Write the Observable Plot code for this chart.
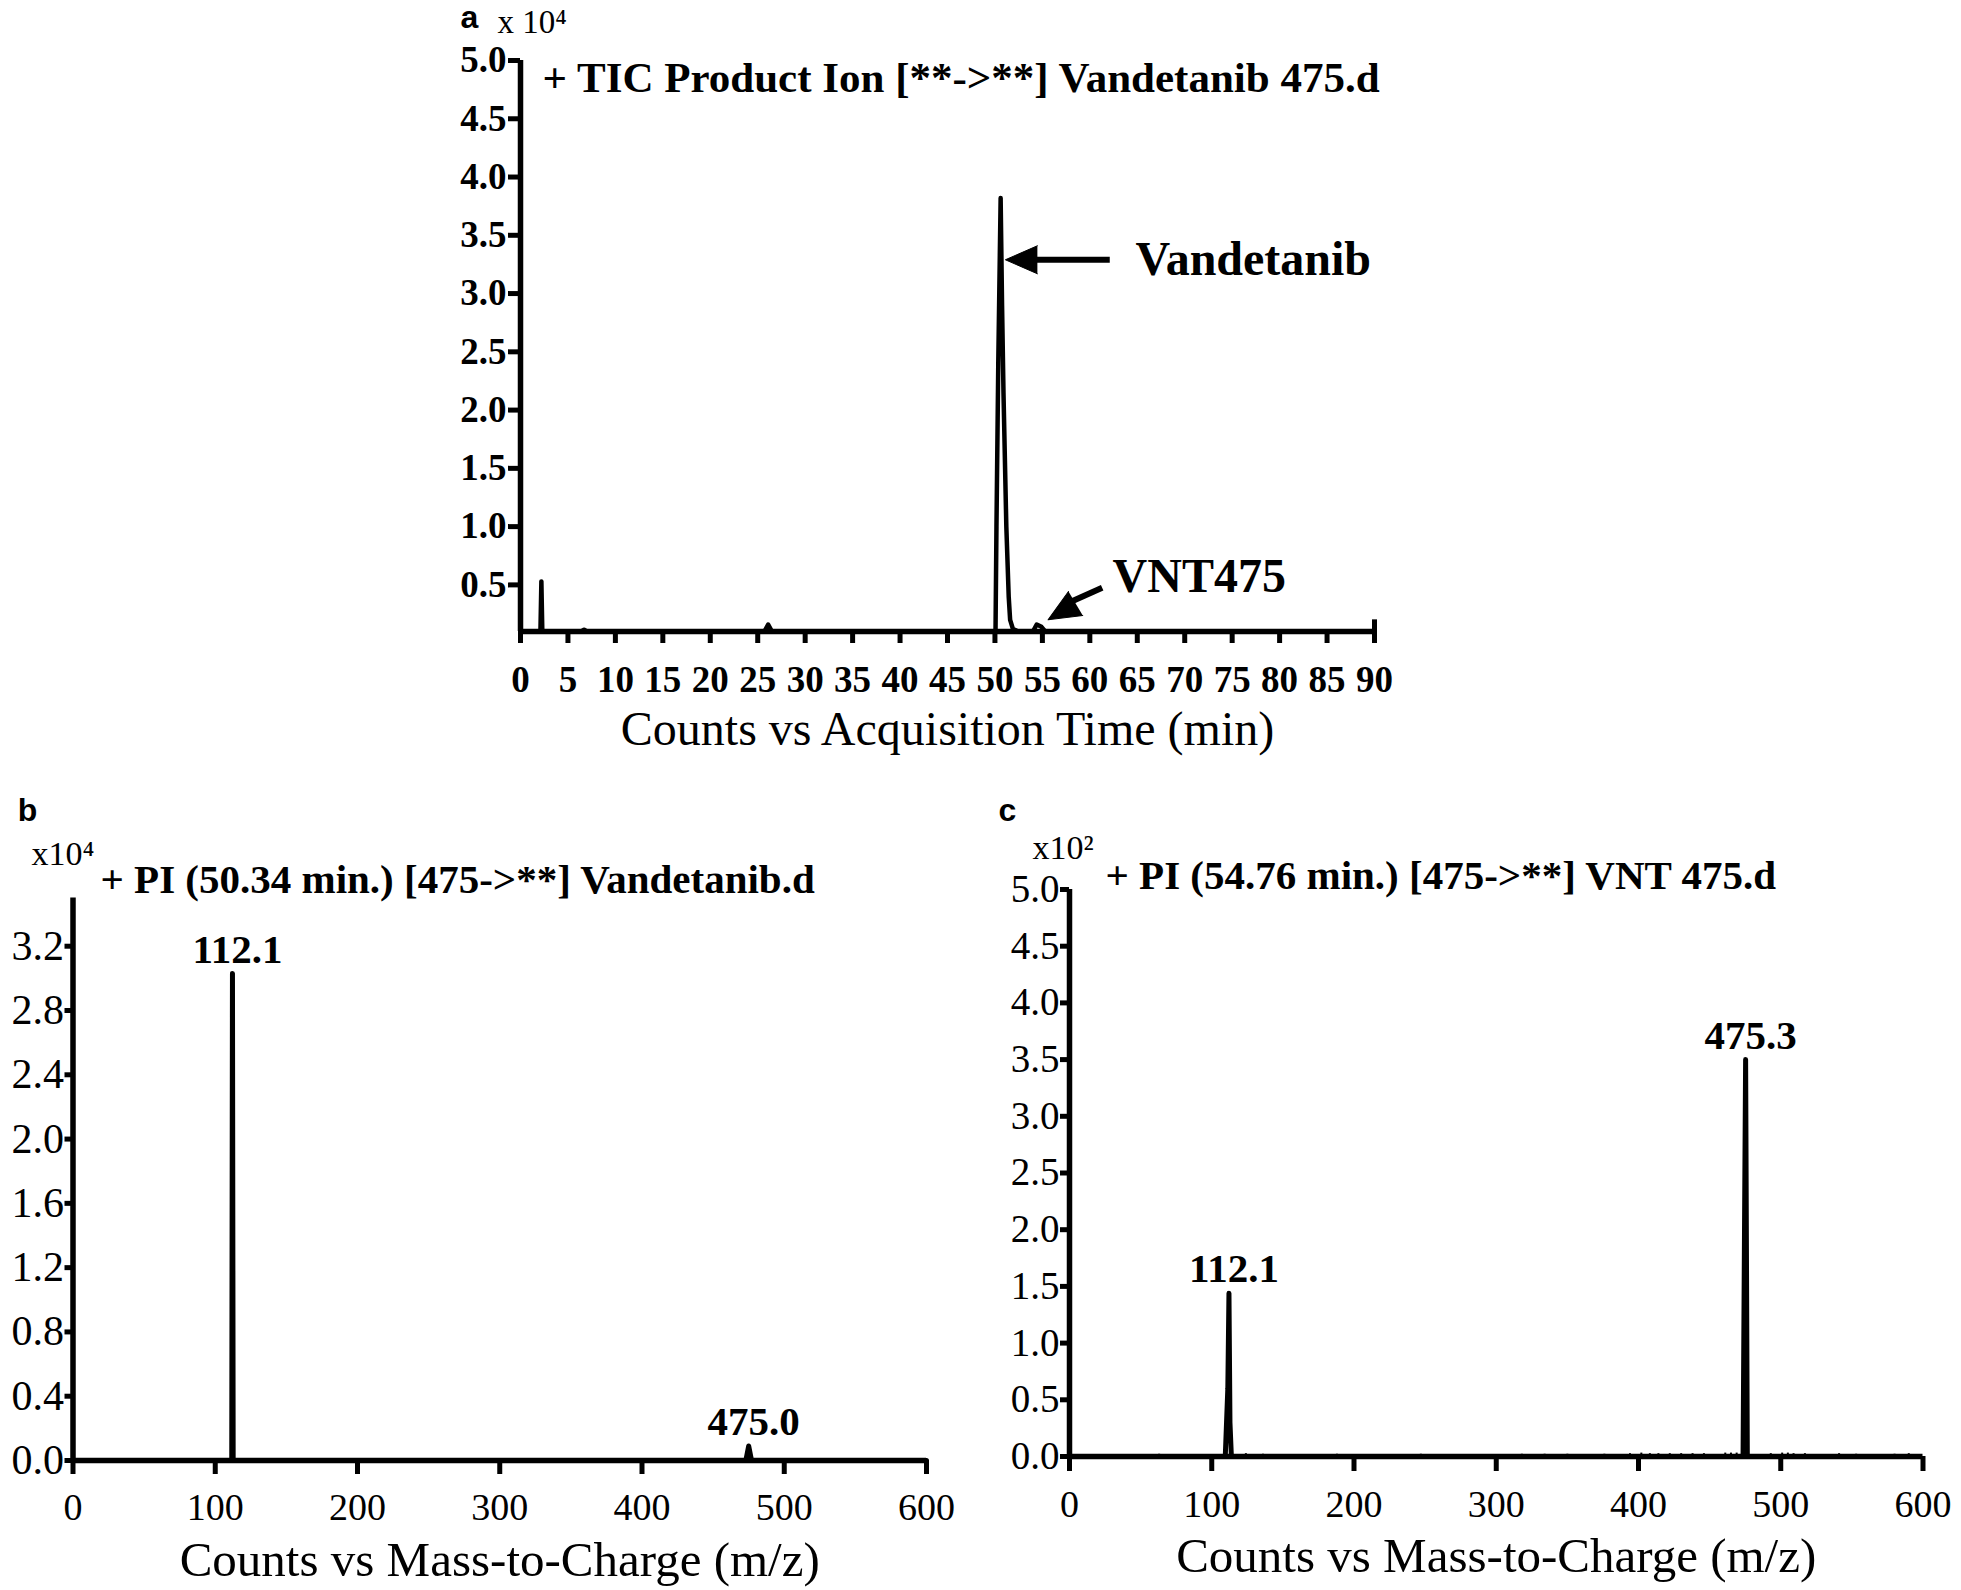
<!DOCTYPE html>
<html><head><meta charset="utf-8">
<script src="https://cdn.jsdelivr.net/npm/d3@7"></script>
<script src="https://cdn.jsdelivr.net/npm/@observablehq/plot@0.6"></script>
<style>
body{margin:0;background:#fff}
#wrap{position:relative;width:1961px;height:1590px;background:#fff;overflow:hidden}
#wrap svg{position:absolute}
</style></head><body><div id="wrap"></div>
<script>
// ---------- Panel a: TIC chromatogram (counts x10^4 vs time, min) ----------
const ticTime   = [0.3, 2.1, 2.2, 2.3, 6.4, 6.7, 7.0, 25.7, 26.1, 26.5, 49.8, 50.06, 50.16, 50.35, 50.6, 50.75, 50.9, 51.2, 51.45, 51.6, 51.9, 52.5, 54.0, 54.4, 54.9, 55.3, 60.0, 89.7];
const ticCounts = [0.1, 0.1, 0.53, 0.1, 0.1, 0.115, 0.1, 0.1, 0.16, 0.1, 0.1, 0.1, 1.0, 2.4, 3.82, 2.9, 2.15, 1.0, 0.4, 0.2, 0.12, 0.1, 0.1, 0.16, 0.14, 0.1, 0.1, 0.1];
const ticXTicks = [0, 5, 10, 15, 20, 25, 30, 35, 40, 45, 50, 55, 60, 65, 70, 75, 80, 85, 90];
const ticYTicks = [0.5, 1.0, 1.5, 2.0, 2.5, 3.0, 3.5, 4.0, 4.5, 5.0];
const titleA = "+ TIC Product Ion [**->**] Vandetanib 475.d";
const scaleA = "x 10\u2074";
const xLabelA = "Counts vs Acquisition Time (min)";
// annotations (label, text position, arrow tail, arrow base, arrow tip, head rotation)
const annLabels = ["Vandetanib", "VNT475"];
const annTextX  = [64.8, 62.4];
const annTextY  = [3.29, 0.57];
const annTailX  = [62.1, 61.3];
const annTailY  = [3.29, 0.476];
const annBaseX  = [53.2, 57.3];
const annBaseY  = [3.29, 0.33];
const annTipX   = [51.1, 55.6];
const annTipY   = [3.29, 0.20];
const annRotate = [-90, 239.4];

// ---------- Panel b: product ion spectrum at 50.34 min (x10^4) ----------
const mzB  = [0, 111.6, 112.1, 112.6, 473, 475.0, 477, 600];
const intB = [0, 0, 3.03, 0, 0, 0.09, 0, 0];
const peakB_mz  = [112.1, 475.0];
const peakB_int = [3.03, 0.09];
const peakB_lab = ["112.1", "475.0"];
const specXTicks = [0, 100, 200, 300, 400, 500, 600];
const bYTicks = [0.0, 0.4, 0.8, 1.2, 1.6, 2.0, 2.4, 2.8, 3.2];
const titleB = "+ PI (50.34 min.) [475->**] Vandetanib.d";
const scaleB = "x10\u2074";

// ---------- Panel c: product ion spectrum at 54.76 min (x10^2) ----------
const mzC  = [52, 109.5, 111.3, 112.1, 112.8, 113.8, 473.5, 475.3, 476.5, 591];
const intC = [0, 0, 0.6, 1.44, 0.3, 0, 0, 3.50, 0, 0];
const noiseC_mz  = [63, 124, 136, 188, 247, 318, 334, 350, 376, 394, 402, 408, 414, 422, 430, 438, 446, 461, 465, 469, 493, 501, 505, 509, 517, 541, 553, 580, 590];
const noiseC_int = [0.02, 0.025, 0.02, 0.02, 0.02, 0.02, 0.02, 0.02, 0.02, 0.025, 0.03, 0.025, 0.025, 0.025, 0.025, 0.025, 0.025, 0.03, 0.03, 0.03, 0.025, 0.03, 0.03, 0.025, 0.025, 0.025, 0.02, 0.02, 0.025];
const peakC_mz  = [112.1, 475.3];
const peakC_int = [1.44, 3.50];
const peakC_lab = ["112.1", "475.3"];
const cYTicks = [0.0, 0.5, 1.0, 1.5, 2.0, 2.5, 3.0, 3.5, 4.0, 4.5, 5.0];
const titleC = "+ PI (54.76 min.) [475->**] VNT 475.d";
const scaleC = "x10\u00B2";
const xLabelSpec = "Counts vs Mass-to-Charge (m/z)";

// ---------- build ----------
const serif = "'Liberation Serif','Times New Roman',Times,serif";
const sans = "'Liberation Sans',Arial,Helvetica,sans-serif";
const f1 = d3.format(".1f");
const wrap = document.getElementById("wrap");
function place(svg, left, top) { svg.style.left = left + "px"; svg.style.top = top + "px"; wrap.appendChild(svg); }
const baseStyle = {fontFamily: serif, overflow: "visible", background: "transparent", color: "#000"};
const txt = (s, o) => Plot.text([s], {text: d => d, frameAnchor: "top-left", textAnchor: "start", lineAnchor: "middle", fill: "#000", ...o});
const AXW = 5.5, TKW = 5;

// Panel a
const tic = ticTime.map((t, i) => ({t, c: ticCounts[i]}));
const ann = annLabels.map((l, i) => ({l, tx: annTextX[i], ty: annTextY[i], x1: annTailX[i], y1: annTailY[i], x2: annBaseX[i], y2: annBaseY[i], hx: annTipX[i], hy: annTipY[i], rot: annRotate[i]}));
const plotA = Plot.plot({
  width: 1961, height: 790, marginLeft: 520, marginRight: 587, marginTop: 60, marginBottom: 159,
  x: {domain: [0, 90]}, y: {domain: [0.1, 5.0]},
  style: baseStyle,
  marks: [
    Plot.axisX({ticks: ticXTicks, tickSize: 12, tickPadding: 22, fontSize: 37, fontWeight: "bold", strokeWidth: TKW, label: null}),
    Plot.axisY({ticks: ticYTicks, tickFormat: f1, tickSize: 12, tickPadding: 2, fontSize: 37, fontWeight: "bold", strokeWidth: TKW, label: null}),
    Plot.ruleX([0], {y1: 0.1, y2: 5.0, strokeWidth: AXW}),
    Plot.ruleY([0.1], {x1: 0, x2: 90, strokeWidth: AXW}),
    Plot.ruleX([90], {y1: 0.1, y2: 0.2, strokeWidth: TKW}),
    Plot.line(tic, {x: "t", y: "c", strokeWidth: 4.5}),
    Plot.link(ann, {x1: "x1", y1: "y1", x2: "x2", y2: "y2", strokeWidth: 6, stroke: "#000"}),
    Plot.vector(ann, {x: "hx", y: "hy", rotate: "rot", length: 32, r: 14, shape: "spike", anchor: "end", fill: "#000", fillOpacity: 1, stroke: "#000", strokeWidth: 1}),
    Plot.text(ann, {x: "tx", y: "ty", text: "l", textAnchor: "start", lineAnchor: "middle", fontSize: 48, fontWeight: "bold", fill: "#000"}),
    txt(titleA, {dx: 22, dy: 17.5, fontSize: 43, fontWeight: "bold"}),
    txt(scaleA, {dx: -23, dy: -38, fontSize: 33}),
    txt("a", {dx: -51, dy: -43, textAnchor: "middle", fontSize: 32, fontWeight: "bold", fontFamily: sans}),
    Plot.text([xLabelA], {text: d => d, frameAnchor: "bottom", dy: 98, lineAnchor: "middle", fontSize: 48, fill: "#000"})
  ]
});
place(plotA, 0, 0);

// Panel b
const specB = mzB.map((m, i) => ({m, c: intB[i]}));
const pkB = peakB_mz.map((m, i) => ({m, c: peakB_int[i], l: peakB_lab[i]}));
const plotB = Plot.plot({
  width: 980, height: 790, marginLeft: 72.5, marginRight: 54, marginTop: 97.5, marginBottom: 130,
  x: {domain: [0, 600]}, y: {domain: [0, 3.5]},
  style: baseStyle,
  marks: [
    Plot.axisX({ticks: specXTicks, tickSize: 14, tickPadding: 19, fontSize: 38, strokeWidth: TKW, label: null}),
    Plot.axisY({ticks: bYTicks, tickFormat: f1, tickSize: 8, tickPadding: 1, fontSize: 42, strokeWidth: TKW, label: null}),
    Plot.ruleX([0], {y1: 0, y2: 3.5, strokeWidth: AXW}),
    Plot.ruleY([0], {x1: 0, x2: 600, strokeWidth: AXW}),
    Plot.line(specB, {x: "m", y: "c", strokeWidth: 5}),
    Plot.text(pkB, {x: "m", y: "c", text: "l", dy: -24, dx: 5, lineAnchor: "middle", fontSize: 41, fontWeight: "bold", fill: "#000"}),
    txt(titleB, {dx: 27.5, dy: -18.5, fontSize: 41, fontWeight: "bold"}),
    txt(scaleB, {dx: -41.5, dy: -43.5, fontSize: 34}),
    txt("b", {dx: -45.5, dy: -87.5, textAnchor: "middle", fontSize: 32, fontWeight: "bold", fontFamily: sans}),
    Plot.text([xLabelSpec], {text: d => d, frameAnchor: "bottom", dy: 100, lineAnchor: "middle", fontSize: 49, fill: "#000"})
  ]
});
place(plotB, 0, 800);

// Panel c
const specC = mzC.map((m, i) => ({m, c: intC[i]}));
const noiseC = noiseC_mz.map((m, i) => ({m, c: noiseC_int[i]}));
const pkC = peakC_mz.map((m, i) => ({m, c: peakC_int[i], l: peakC_lab[i]}));
const plotC = Plot.plot({
  width: 981, height: 790, marginLeft: 89, marginRight: 38.5, marginTop: 89, marginBottom: 134,
  x: {domain: [0, 600]}, y: {domain: [0, 5.0]},
  style: baseStyle,
  marks: [
    Plot.axisX({ticks: specXTicks, tickSize: 15, tickPadding: 19, fontSize: 38, strokeWidth: TKW, label: null}),
    Plot.axisY({ticks: cYTicks, tickFormat: f1, tickSize: 9, tickPadding: 1, fontSize: 39, strokeWidth: TKW, label: null}),
    Plot.ruleX([0], {y1: 0, y2: 5.0, strokeWidth: AXW}),
    Plot.ruleY([0], {x1: 0, x2: 600, strokeWidth: AXW}),
    Plot.ruleX(noiseC, {x: "m", y1: 0, y2: "c", strokeWidth: 2}),
    Plot.line(specC, {x: "m", y: "c", strokeWidth: 5}),
    Plot.text(pkC, {x: "m", y: "c", text: "l", dy: -24, dx: 5, lineAnchor: "middle", fontSize: 41, fontWeight: "bold", fill: "#000"}),
    txt(titleC, {dx: 36, dy: -14, fontSize: 41, fontWeight: "bold"}),
    txt(scaleC, {dx: -37, dy: -41, fontSize: 34}),
    txt("c", {dx: -62, dy: -79, textAnchor: "middle", fontSize: 32, fontWeight: "bold", fontFamily: sans}),
    Plot.text([xLabelSpec], {text: d => d, frameAnchor: "bottom", dy: 100, lineAnchor: "middle", fontSize: 49, fill: "#000"})
  ]
});
place(plotC, 980, 800);
</script></body></html>
